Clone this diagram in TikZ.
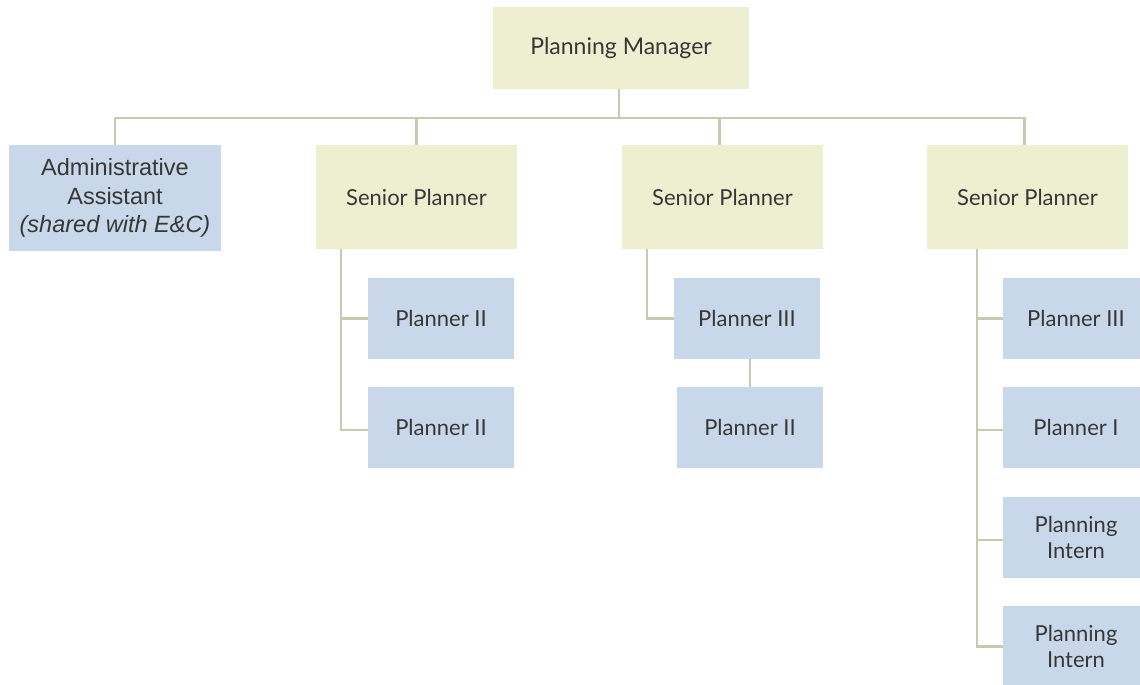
\documentclass[tikz,border=0pt]{standalone}
\usepackage{fontspec}
\setmainfont{Lato}
\newfontfamily\arialfont{Liberation Sans}
\usetikzlibrary{positioning}

\definecolor{boxyellow}{RGB}{238,239,208}
\definecolor{boxblue}{RGB}{200,215,233}
\definecolor{linkgreen}{RGB}{196,204,176}
\definecolor{textgray}{RGB}{55,55,55}

\begin{document}
\begin{tikzpicture}[x=1pt, y=-1pt,
        headbox/.style={fill=boxyellow, inner sep=0pt, text=textgray, minimum width=201pt, minimum height=104pt, font=\fontsize{22}{26}\selectfont},
        staffbox/.style={fill=boxblue, inner sep=0pt, text=textgray, minimum width=146pt, minimum height=81pt, align=center, font=\fontsize{22}{26}\selectfont},
        link/.style={draw=linkgreen, line width=2.4pt}]
    \useasboundingbox (0, 0) rectangle (1140, 685);

    \node[headbox, minimum width=256pt, minimum height=82pt, font=\fontsize{23}{27}\selectfont] (mgr) at (621, 48) {Planning Manager};
    \node[fill=boxblue, inner sep=0pt, minimum width=212pt, minimum height=106pt, align=center, text=textgray, font=\arialfont\fontsize{23.5}{28.5}\selectfont] (admin) at (115, 198) {Administrative\\Assistant\\\textit{(shared with E\&C)}};
    \node[headbox] (sp1) at (416.5, 197) {Senior Planner};
    \node[headbox] (sp2) at (722.5, 197) {Senior Planner};
    \node[headbox] (sp3) at (1027.5, 197) {Senior Planner};

    \node[staffbox] (p2a) at (441, 318.5) {Planner II};
    \node[staffbox] (p2b) at (441, 427.5) {Planner II};

    \node[staffbox] (p3a) at (747, 318.5) {Planner III};
    \node[staffbox] (p2c) at (750, 427.5) {Planner II};

    \node[staffbox] (p3b) at (1076, 318.5) {Planner III};
    \node[staffbox] (p1) at (1076, 427.5) {Planner I};
    \node[staffbox] (int1) at (1076, 537.5) {Planning\\Intern};
    \node[staffbox] (int2) at (1076, 646.5) {Planning\\Intern};

    \coordinate (bus) at (619, 118);
    \draw[link] (bus |- mgr.south) -- (bus);
    \draw[link] (bus) -| (admin.north);
    \draw[link] (bus) -| (sp1.north);
    \draw[link] (bus) -| ([xshift=-3pt]sp2.north);
    \draw[link] (bus) -| ([xshift=-3pt]sp3.north);

    \draw[link] ([xshift=25pt]sp1.south west) |- (p2a.west);
    \draw[link] ([xshift=25pt]sp1.south west) |- ([yshift=-2.5pt]p2b.west);

    \draw[link] ([xshift=25pt]sp2.south west) |- (p3a.west);
    \draw[link] (p2c.north |- p3a.south) -- (p2c.north);

    \draw[link] ([xshift=50pt]sp3.south west) |- (p3b.west);
    \draw[link] ([xshift=50pt]sp3.south west) |- ([yshift=-2.5pt]p1.west);
    \draw[link] ([xshift=50pt]sp3.south west) |- ([yshift=-2.5pt]int1.west);
    \draw[link] ([xshift=50pt]sp3.south west) |- (int2.west);
\end{tikzpicture}
\end{document}
